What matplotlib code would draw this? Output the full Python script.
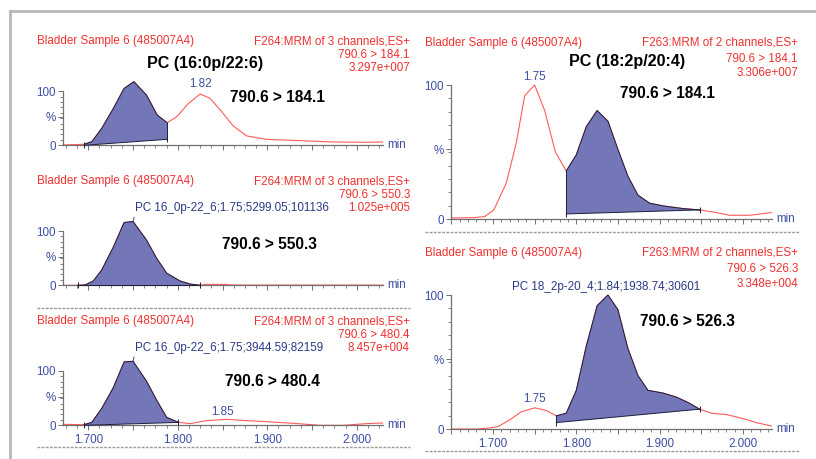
import numpy as np
import matplotlib
matplotlib.use("Agg")
import matplotlib.pyplot as plt
from matplotlib.lines import Line2D
from matplotlib.ticker import FixedLocator, MultipleLocator, FuncFormatter

plt.rcParams['font.family'] = ['Liberation Sans', 'DejaVu Sans']

W, H = 816, 459

# ---- data (time in min, intensity in % of the largest peak) ----
t_a184 = [1.672, 1.6955, 1.704, 1.715, 1.728, 1.740, 1.751, 1.765, 1.777, 1.788, 1.799,
          1.812, 1.825, 1.836, 1.849, 1.862, 1.877, 1.899, 1.937, 1.974, 2.011, 2.029]
i_a184 = [0.5, 1.6, 5.8, 26.7, 58, 89.5, 100, 79, 47.6, 35.6, 45,
          66, 80.6, 74, 53, 30.4, 14.7, 9.4, 7.3, 5.2, 4.7, 5.2]

t_a550 = [1.672, 1.688, 1.6963, 1.7056, 1.715, 1.728, 1.740, 1.750, 1.765, 1.7765, 1.7876,
          1.8025, 1.8137, 1.825, 1.832, 1.855, 1.858, 1.881, 2.029]
i_a550 = [0, 0, 0.5, 6.8, 24, 60, 98.4, 100, 71, 42, 19,
          6.8, 2, 0, 1.5, 1.5, 0.5, 0.3, 0.3]

t_a480 = [1.672, 1.6955, 1.704, 1.715, 1.728, 1.740, 1.750, 1.765, 1.7765, 1.7876, 1.8006,
          1.8137, 1.832, 1.855, 1.877, 1.899, 1.929, 1.959, 1.985, 2.011, 2.029]
i_a480 = [1.5, 1.0, 4.7, 26.4, 59, 99, 100, 69, 39, 12.4, 4.7,
          2.6, 7.3, 9.3, 7.3, 5.7, 3.1, 0, 0, 2.6, 3.6]

t_b184 = [1.650, 1.676, 1.690, 1.701, 1.716, 1.728, 1.738, 1.750, 1.762, 1.775, 1.788, 1.800, 1.812,
          1.825, 1.838, 1.850, 1.862, 1.874, 1.888, 1.904, 1.928, 1.948, 1.968, 1.984, 2.008, 2.034]
i_b184 = [1, 1.2, 2, 7, 27, 57, 92, 100, 81, 50, 36, 48, 69,
          81, 73, 52, 32, 18, 12, 10, 8, 7, 5, 3, 3, 5]

t_b526 = [1.650, 1.680, 1.696, 1.706, 1.720, 1.734, 1.750, 1.764, 1.776, 1.788, 1.800, 1.812, 1.825, 1.838,
          1.850, 1.862, 1.874, 1.886, 1.904, 1.920, 1.934, 1.948, 1.962, 1.980, 2.000, 2.016, 2.034]
i_b526 = [0.2, 0.2, 1, 2, 7, 13, 16, 14, 10, 12, 29, 62, 92, 100,
          89, 60, 40, 29, 27, 24, 20, 15, 12, 11, 8, 5, 2.5]

# integration windows (start, end) and baseline heights at those ends
win_a184, base_a184 = (1.6955, 1.788), (0, 9.4)
win_a550, base_a550 = (1.688, 1.825), (0, 0)
win_a480, base_a480 = (1.6955, 1.8006), (0, 4.5)
win_b184, base_b184 = (1.788, 1.948), (4, 7)
win_b526, base_b526 = (1.776, 1.948), (5, 15)

sample = "Bladder Sample 6 (485007A4)"
funcs = ["F264:MRM of 3 channels,ES+"] * 3 + ["F263:MRM of 2 channels,ES+"] * 2
transitions = ["790.6 > 184.1", "790.6 > 550.3", "790.6 > 480.4", "790.6 > 184.1", "790.6 > 526.3"]
intensities = ["3.297e+007", "1.025e+005", "8.457e+004", "3.306e+007", "3.348e+004"]

RED = '#f03030'
LINE = '#ff5a5a'
BLUE = '#3d4ea3'
NAVY = '#2b3985'
FILL = '#7377b7'
EDGE = '#1c1c3c'
GREY = '#707070'

fig = plt.figure(figsize=(W / 100, H / 100), dpi=100)


def px(x, y):
    return x / W, 1 - y / H


def panel(x0, x1, ytop, ybot, xlim, t, y, win, base, ytop_tick, minor_x, labels):
    ax = fig.add_axes([x0 / W, 1 - ybot / H, (x1 - x0) / W, (ybot - ytop) / H])
    ax.set_xlim(*xlim)
    ax.set_ylim(0, 100)
    ax.patch.set_alpha(0)
    for s in ['top', 'right']:
        ax.spines[s].set_visible(False)
    for s in ['left', 'bottom']:
        ax.spines[s].set_color(GREY)
        ax.spines[s].set_linewidth(0.9)
    ax.spines['left'].set_bounds(0, ytop_tick)

    t = np.array(t)
    y = np.array(y)
    ax.plot(t, y, color=LINE, lw=0.8, clip_on=False, zorder=2)

    m = (t >= win[0] - 1e-9) & (t <= win[1] + 1e-9)
    tw, yw = t[m], y[m]
    bw = np.interp(tw, win, base)
    ax.fill_between(tw, bw, yw, facecolor=FILL, edgecolor='none', zorder=3, clip_on=False)
    ax.plot(tw, yw, color=EDGE, lw=0.7, zorder=4, clip_on=False)
    ax.plot(win, base, color=EDGE, lw=0.7, zorder=4, clip_on=False)
    ax.plot([tw[0], tw[0]], [bw[0], yw[0]], color=EDGE, lw=0.7, zorder=4)
    ax.plot([tw[-1], tw[-1]], [bw[-1], yw[-1]], color=EDGE, lw=0.7, zorder=4)
    ax.plot(win, base, ls='none', marker='|', ms=5, mew=0.7, color=EDGE, zorder=5, clip_on=False)

    # axes ticks
    majors = np.arange(1.65, 2.05, 0.05)
    ax.xaxis.set_major_locator(FixedLocator(majors))
    ax.xaxis.set_minor_locator(MultipleLocator(minor_x))
    if labels:
        ax.xaxis.set_major_formatter(FuncFormatter(
            lambda v, p: f"{v:.3f}" if round(v * 20) % 2 == 0 else ""))
    else:
        ax.xaxis.set_major_formatter(FuncFormatter(lambda v, p: ""))
    ax.set_yticks([0, ytop_tick / 2 + 2, ytop_tick])
    ax.set_yticklabels(['0', '%', '100'])
    ax.yaxis.set_minor_locator(FixedLocator(np.linspace(0, ytop_tick, 11)))
    ax.tick_params(axis='both', which='major', length=3.5, width=0.7, color=GREY,
                   labelcolor=BLUE, labelsize=8.4, pad=1.5)
    ax.tick_params(axis='both', which='minor', length=2, width=0.6, color=GREY)
    ax.tick_params(axis='x', pad=3)
    return ax


def headers(xl, xr, ys, k):
    fig.text(*px(xl, ys[0]), sample, color=RED, fontsize=8.4, ha='left', va='center')
    fig.text(*px(xr, ys[0]), funcs[k], color=RED, fontsize=8.4, ha='right', va='center')
    fig.text(*px(xr, ys[1]), transitions[k], color=RED, fontsize=8.4, ha='right', va='center')
    fig.text(*px(xr, ys[2]), intensities[k], color=RED, fontsize=8.4, ha='right', va='center')


def min_label(ax):
    ax.annotate('min', (1, 0), xycoords='axes fraction', xytext=(3, 0), textcoords='offset points',
                ha='left', va='center', color=BLUE, fontsize=8.4)


LX = (1.6717, 2.0294)
RX = (1.6496, 2.0349)

a1 = panel(63, 383, 81.7, 145.3, LX, t_a184, i_a184, win_a184, base_a184, 85, 0.0125, False)
a2 = panel(63, 383, 221.5, 285.3, LX, t_a550, i_a550, win_a550, base_a550, 85, 0.0125, False)
a3 = panel(63, 383, 361.3, 425.3, LX, t_a480, i_a480, win_a480, base_a480, 85, 0.0125, True)
b1 = panel(451, 772, 85, 219.3, RX, t_b184, i_b184, win_b184, base_b184, 100, 0.01, False)
b2 = panel(451, 772, 295, 429.3, RX, t_b526, i_b526, win_b526, base_b526, 100, 0.01, True)
for ax in (a1, a2, a3, b1, b2):
    min_label(ax)

headers(37, 410, (41, 54.5, 68), 0)
headers(37, 410, (181, 194.5, 208), 1)
headers(37, 410, (321, 334.5, 348), 2)
headers(425, 798, (42.7, 58.5, 73.3), 3)
headers(425, 798, (252.7, 269, 284.3), 4)

# compound titles and transition labels
fig.text(*px(205, 63.3), "PC (16:0p/22:6)", fontsize=11.6, fontweight='bold', ha='center', va='center')
fig.text(*px(627, 61.7), "PC (18:2p/20:4)", fontsize=11.6, fontweight='bold', ha='center', va='center')
for (x, y), s in zip([(277, 97.3), (269, 245), (272, 381.7), (667, 94), (687, 321.7)], transitions):
    fig.text(*px(x, y), s, fontsize=11.2, fontweight='bold', ha='center', va='center')

# peak annotations
a1.annotate("1.82", (1.825, 80.6), xytext=(0, 7), textcoords='offset points',
            ha='center', va='center', color=BLUE, fontsize=8.4)
a3.annotate("1.85", (1.855, 9.3), xytext=(-3, 5), textcoords='offset points',
            ha='center', va='center', color=BLUE, fontsize=8.4)
b1.annotate("1.75", (1.750, 100), xytext=(0, 6), textcoords='offset points',
            ha='center', va='center', color=BLUE, fontsize=8.4)
b2.annotate("1.75", (1.750, 16), xytext=(0, 6), textcoords='offset points',
            ha='center', va='center', color=BLUE, fontsize=8.4)
lead = dict(arrowstyle='-', color=NAVY, lw=0.6, shrinkA=0, shrinkB=0, relpos=(0, 0.15))
a2.annotate("PC 16_0p-22_6;1.75;5299.05;101136", (1.750, 100), xytext=(1.5, 9.5),
            textcoords='offset points', ha='left', va='center', color=NAVY, fontsize=8.4,
            arrowprops=lead)
a3.annotate("PC 16_0p-22_6;1.75;3944.59;82159", (1.750, 100), xytext=(1.5, 9.5),
            textcoords='offset points', ha='left', va='center', color=NAVY, fontsize=8.4,
            arrowprops=lead)
b2.annotate("PC 18_2p-20_4;1.84;1938.74;30601", (1.838, 100), xytext=(-1, 6),
            textcoords='offset points', ha='center', va='center', color=NAVY, fontsize=8.4)

# frame and separators
fig.add_artist(Line2D([10 / W, 1], [1 - 11 / H, 1 - 11 / H], color='#b8b8b8', lw=2))
fig.add_artist(Line2D([10 / W, 10 / W], [0, 1 - 11 / H], color='#b8b8b8', lw=2))
for x0, x1, y in [(37, 410, 308), (37, 410, 447), (425, 800, 232), (425, 800, 451)]:
    fig.add_artist(Line2D([x0 / W, x1 / W], [1 - y / H, 1 - y / H], color='#9a9a9a',
                          lw=1, ls=(0, (2, 1))))

fig.savefig("out.png", dpi=100)
